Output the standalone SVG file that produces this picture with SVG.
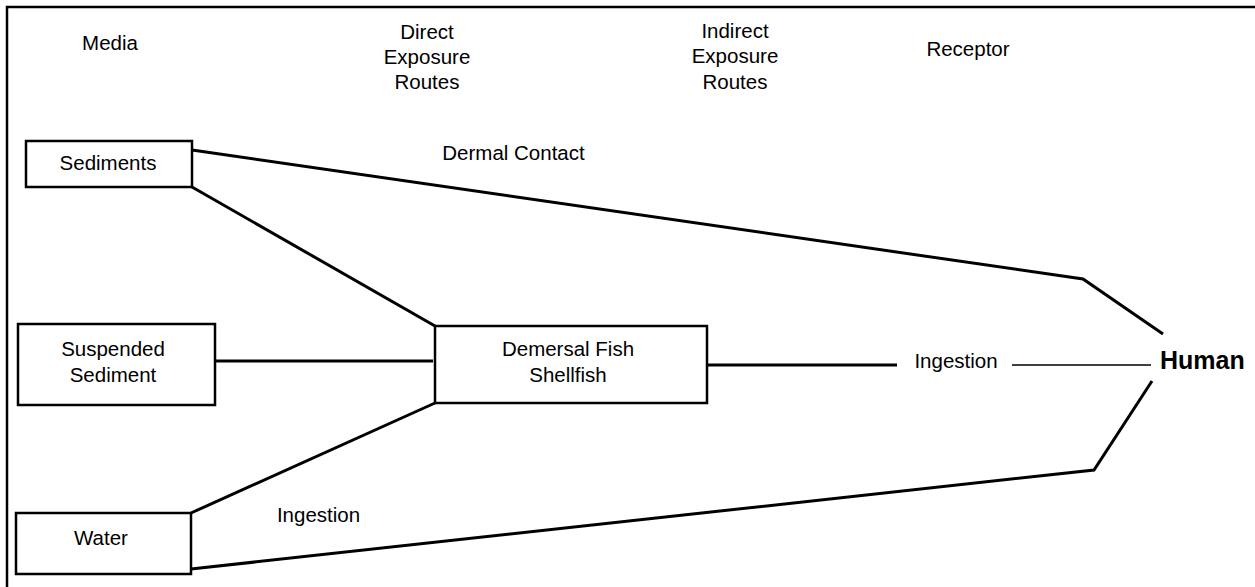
<svg xmlns="http://www.w3.org/2000/svg" width="1255" height="587" viewBox="0 0 1255 587">
<style>
  text { font-family: "Liberation Sans", Arial, sans-serif; font-size: 20.5px; fill: #000; text-anchor: middle; }
  .box { fill: #fff; stroke: #000; stroke-width: 2.5; }
  .conn { fill: none; stroke: #000; stroke-width: 3; stroke-linejoin: miter; }
  .thin { fill: none; stroke: #000; stroke-width: 1.5; }
  .frame { fill: none; stroke: #000; stroke-width: 2.5; }
  .bold { font-weight: bold; font-size: 25px; text-anchor: start; }
</style>
<rect width="1255" height="587" fill="#fff"/>
<g id="frame">
  <polyline class="frame" points="7,587 7,7 1255,7"/>
</g>
<g id="headers">
  <text x="110" y="50">Media</text>
  <text x="427" y="39">Direct</text>
  <text x="427" y="64">Exposure</text>
  <text x="427" y="89">Routes</text>
  <text x="735" y="38">Indirect</text>
  <text x="735" y="63">Exposure</text>
  <text x="735" y="89">Routes</text>
  <text x="968" y="56">Receptor</text>
</g>
<g id="connectors">
  <polyline class="conn" points="192,150 1083,279 1163,334"/>
  <line class="conn" x1="192" y1="187" x2="435" y2="326"/>
  <line class="conn" x1="215" y1="361" x2="433" y2="361"/>
  <line class="conn" x1="191" y1="513" x2="435" y2="403"/>
  <line class="conn" x1="707" y1="365" x2="897" y2="365"/>
  <line class="thin" x1="1012" y1="365" x2="1151" y2="365"/>
  <polyline class="conn" points="191,569 1094,470 1152,381"/>
  <text x="513.5" y="160">Dermal Contact</text>
  <text x="318.5" y="522">Ingestion</text>
  <text x="956" y="368">Ingestion</text>
</g>
<g id="sediments">
  <rect class="box" x="26" y="141" width="166" height="46"/>
  <text x="108" y="170">Sediments</text>
</g>
<g id="suspended-sediment">
  <rect class="box" x="18" y="324" width="197" height="81"/>
  <text x="113" y="356">Suspended</text>
  <text x="113" y="382">Sediment</text>
</g>
<g id="water">
  <rect class="box" x="16" y="513" width="175" height="61"/>
  <text x="101" y="545">Water</text>
</g>
<g id="demersal">
  <rect class="box" x="435" y="326" width="272" height="77"/>
  <text x="568" y="356">Demersal Fish</text>
  <text x="568" y="382">Shellfish</text>
</g>
<g id="human">
  <text class="bold" x="1160" y="369">Human</text>
</g>
</svg>
